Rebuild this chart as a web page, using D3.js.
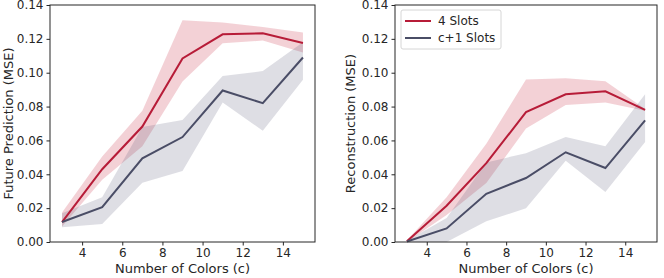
<!DOCTYPE html>
<html>
<head>
<meta charset="utf-8">
<script src="https://cdn.jsdelivr.net/npm/d3@7"></script>
<style>
body { margin: 0; background: #fff; }
svg text { font-family: "DejaVu Sans", sans-serif; fill: #262626; }
</style>
</head>
<body>
<script>
var W = 664, H = 278;

var colors = [3, 5, 7, 9, 11, 13, 15];
var xTicks = [4, 6, 8, 10, 12, 14];
var yTicks = [0, 0.02, 0.04, 0.06, 0.08, 0.10, 0.12, 0.14];
var seriesNames = ["4 Slots", "c+1 Slots"];

// Future Prediction (MSE)
var predRed = [0.0118, 0.043, 0.0682, 0.1084, 0.1227, 0.1233, 0.1176];
var predRedHi = [0.0175, 0.0505, 0.0775, 0.131, 0.1296, 0.127, 0.1237];
var predRedLo = [0.0092, 0.0368, 0.0565, 0.0948, 0.1174, 0.119, 0.1119];
var predGray = [0.0118, 0.0206, 0.0494, 0.062, 0.0895, 0.082, 0.109];
var predGrayHi = [0.017, 0.0265, 0.068, 0.072, 0.098, 0.101, 0.118];
var predGrayLo = [0.0087, 0.0106, 0.035, 0.042, 0.0824, 0.0657, 0.0958];

// Reconstruction (MSE)
var recRed = [0.0004, 0.0214, 0.0466, 0.0767, 0.0873, 0.089, 0.078];
var recRedHi = [0.001, 0.0265, 0.058, 0.096, 0.0967, 0.095, 0.0785];
var recRedLo = [0.0, 0.016, 0.0348, 0.067, 0.081, 0.0824, 0.0775];
var recGray = [0.0003, 0.008, 0.0285, 0.0378, 0.053, 0.0437, 0.0718];
var recGrayHi = [0.0008, 0.0142, 0.047, 0.0525, 0.062, 0.0565, 0.0873];
var recGrayLo = [0.0, 0.0, 0.0122, 0.02, 0.048, 0.0295, 0.059];

var red = "#b71c38", gray = "#4a4d66";
var redFill = "rgba(199, 45, 70, 0.22)", grayFill = "rgba(90, 92, 120, 0.2)";

var svg = d3.select("body").append("svg")
	.attr("width", W)
	.attr("height", H);

function panel(left, right, label, labelX, series, legend) {
	var top = 5, bottom = 242;
	var x = d3.scaleLinear().domain([2.4, 15.6]).range([left, right]);
	var y = d3.scaleLinear().domain([0, 0.14]).range([bottom, top]);
	var g = svg.append("g");

	series.forEach(function(s) {
		var rows = colors.map(function(c, i) {
			return { c: c, m: s.mean[i], lo: s.lo[i], hi: s.hi[i] };
		});
		g.append("path")
			.datum(rows)
			.attr("fill", s.fill)
			.attr("d", d3.area().x(function(d) { return x(d.c); })
				.y0(function(d) { return y(d.lo); })
				.y1(function(d) { return y(d.hi); }));
	});
	series.forEach(function(s) {
		g.append("path")
			.datum(s.mean)
			.attr("fill", "none")
			.attr("stroke", s.color)
			.attr("stroke-width", 2)
			.attr("d", d3.line().x(function(d, i) { return x(colors[i]); })
				.y(function(d) { return y(d); }));
	});

	var xa = g.append("g").attr("transform", "translate(0," + bottom + ")")
		.call(d3.axisBottom(x).tickValues(xTicks).tickSize(3.5).tickPadding(3).tickFormat(d3.format("d")));
	var ya = g.append("g").attr("transform", "translate(" + left + ",0)")
		.call(d3.axisLeft(y).tickValues(yTicks).tickSize(3.5).tickPadding(3).tickFormat(d3.format(".2f")));
	[xa, ya].forEach(function(a) {
		a.select(".domain").remove();
		a.selectAll("line").attr("stroke", "#262626");
		a.selectAll("text").style("font-size", "12px").attr("fill", "#262626");
	});

	g.append("rect")
		.attr("x", left).attr("y", top)
		.attr("width", right - left).attr("height", bottom - top)
		.attr("fill", "none").attr("stroke", "#262626").attr("stroke-width", 1);

	g.append("text")
		.attr("x", (left + right) / 2).attr("y", 273)
		.attr("text-anchor", "middle").style("font-size", "13px")
		.text("Number of Colors (c)");
	g.append("text")
		.attr("transform", "translate(" + labelX + "," + ((top + bottom) / 2) + ") rotate(-90)")
		.attr("text-anchor", "middle").attr("dy", "0.35em").style("font-size", "13px")
		.text(label);

	if (legend) {
		var lg = g.append("g").attr("transform", "translate(" + (left + 6) + ",10)");
		lg.append("rect").attr("width", 100).attr("height", 39).attr("rx", 2)
			.attr("fill", "#fff").attr("fill-opacity", 0.8)
			.attr("stroke", "#d6d6d6");
		series.forEach(function(s, i) {
			var yy = 11 + i * 17;
			lg.append("line").attr("x1", 4).attr("x2", 30).attr("y1", yy).attr("y2", yy)
				.attr("stroke", s.color).attr("stroke-width", 2);
			lg.append("text").attr("x", 37).attr("y", yy).attr("dy", "0.35em")
				.style("font-size", "12px").text(seriesNames[i]);
		});
	}
}

panel(50, 315, "Future Prediction (MSE)", 8, [
	{ mean: predRed, lo: predRedLo, hi: predRedHi, color: red, fill: redFill },
	{ mean: predGray, lo: predGrayLo, hi: predGrayHi, color: gray, fill: grayFill }
], false);

panel(395, 657, "Reconstruction (MSE)", 350, [
	{ mean: recRed, lo: recRedLo, hi: recRedHi, color: red, fill: redFill },
	{ mean: recGray, lo: recGrayLo, hi: recGrayHi, color: gray, fill: grayFill }
], true);
</script>
</body>
</html>
